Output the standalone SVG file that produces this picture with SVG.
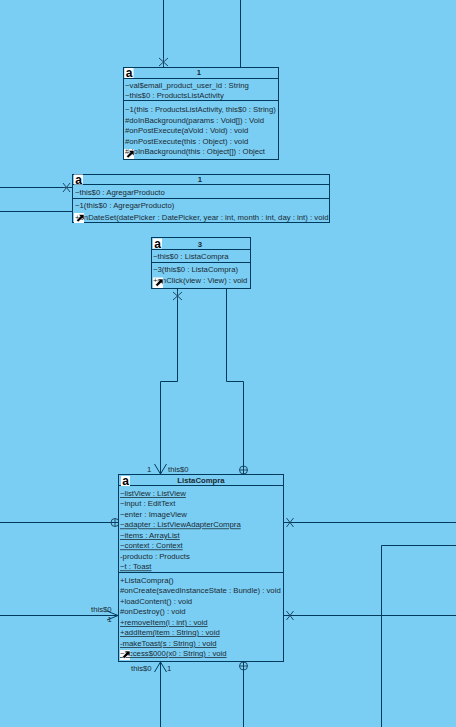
<svg xmlns="http://www.w3.org/2000/svg" width="456" height="727" viewBox="0 0 456 727">
<defs>
<style>
.bx{fill:#7acef4;stroke:#003a5c;stroke-width:1}
.ln{fill:none;stroke:#003a5c;stroke-width:1}
.mk{fill:none;stroke:#1d4a68;stroke-width:1}
text{font-family:"Liberation Sans",Arial,sans-serif;font-size:7.75px;fill:#1a2a33}
.t{font-weight:bold;text-anchor:middle}
.u{text-decoration:underline}
.ic{font-weight:bold;font-size:12px;fill:#000}
</style>
<g id="aicon"><rect x="0" y="0" width="9" height="10" fill="#fff"/><text class="ic" x="1.300" y="9.200">a</text></g>
<g id="ovr"><path d="M4.500 1.500H10V7L8.300 5.300L4.200 9L2.500 7.300L6.200 3.200Z" fill="#000" stroke="#fff" stroke-width=".6"/></g>
</defs>
<rect width="456" height="727" fill="#7acef4"/>
<g id="connectors">
<path class="ln" d="M163.500 0V67M240.500 0V67"/>
<path class="mk" d="M159 58L168 66M168 58L159 66M163.500 58V66"/>
<path class="ln" d="M0 187.500H72M0 211.500H72"/>
<path class="mk" d="M63 183L70 192M70 183L63 192M63 187.500H70"/>
<path class="ln" d="M177.500 289V381.500H160.500V474M226.500 289V381.500H243.500V474"/>
<path class="mk" d="M173 292L182 300M182 292L173 300M177.500 291V300"/>
<path class="ln" d="M154.500 464L160.500 474L166.500 464"/>
<circle class="mk" cx="243.500" cy="470" r="4"/><path class="mk" d="M239.500 470H247.500"/>
<path class="ln" d="M0 522.500H118"/>
<circle class="mk" cx="115" cy="522.500" r="4"/><path class="mk" d="M115 518.500V526.500"/>
<path class="ln" d="M284 522.500H456M284 615.500H456"/>
<path class="mk" d="M286.500 518L293.500 527M293.500 518L286.500 527M286.500 611L293.500 620M293.500 611L286.500 620"/>
<path class="ln" d="M0 615.500H118M107 611L118 615.500L107 620"/>
<path class="ln" d="M456 545.500H381.500V727"/>
<path class="ln" d="M160.500 661V727M154.500 672L160.500 662L166.500 672M243.500 661V727"/>
<circle class="mk" cx="243.500" cy="666" r="4"/><path class="mk" d="M239.500 666H247.500"/>
</g>
<g id="labels">
<text x="147" y="472">1</text><text x="168" y="472">this$0</text>
<text x="91" y="612">this$0</text><text x="107.500" y="622">1</text>
<text x="131" y="671">this$0</text><text x="167" y="671">1</text>
</g>
<g id="node-anon1">
<rect class="bx" x="123.500" y="67.500" width="155" height="92"/>
<path class="ln" d="M123.500 78.500H278.500M123.500 100.500H278.500"/>
<use href="#aicon" x="124.500" y="68"/>
<text class="t" x="199" y="75">1</text>
<text x="125" y="87.700">~val$email_product_user_id : String</text>
<text x="125" y="97.700">~this$0 : ProductsListActivity</text>
<text x="125" y="111.700">~1(this : ProductsListActivity, this$0 : String)</text>
<text x="125" y="122.700">#doInBackground(params : Void[]) : Void</text>
<text x="125" y="133">#onPostExecute(aVoid : Void) : void</text>
<text x="125" y="143.700">#onPostExecute(this : Object) : void</text>
<rect x="124" y="149" width="10" height="10" fill="#fff"/>
<text x="125" y="154.300">#doInBackground(this : Object[]) : Object</text>
<use href="#ovr" x="124" y="149"/>
</g>
<g id="node-anon2">
<rect class="bx" x="72.500" y="174.500" width="257" height="48"/>
<path class="ln" d="M72.500 184.500H329.500M72.500 198.500H329.500"/>
<use href="#aicon" x="74" y="174.500"/>
<text class="t" x="200" y="181.500">1</text>
<text x="75" y="195">~this$0 : AgregarProducto</text>
<text x="75" y="208">~1(this$0 : AgregarProducto)</text>
<rect x="74" y="213" width="10" height="10" fill="#fff"/>
<text x="75" y="219.700">+onDateSet(datePicker : DatePicker, year : int, month : int, day : int) : void</text>
<use href="#ovr" x="74" y="213"/>
</g>
<g id="node-anon3">
<rect class="bx" x="151.500" y="237.500" width="99" height="51"/>
<path class="ln" d="M151.500 249.500H250.500M151.500 262.500H250.500"/>
<use href="#aicon" x="153" y="238.500"/>
<text class="t" x="200" y="246.500">3</text>
<text x="153" y="259">~this$0 : ListaCompra</text>
<text x="153" y="271.700">~3(this$0 : ListaCompra)</text>
<rect x="153" y="277.500" width="10" height="10.500" fill="#fff"/>
<text x="153" y="282.700">+onClick(view : View) : void</text>
<use href="#ovr" x="153" y="277.500"/>
</g>
<g id="node-ListaCompra">
<rect class="bx" x="118.500" y="474.500" width="165" height="187"/>
<path class="ln" d="M118.500 485.500H283.500M118.500 572.500H283.500"/>
<use href="#aicon" x="121" y="476"/>
<text class="t" x="201" y="483">ListaCompra</text>
<text class="u" x="120" y="496">~listView : ListView</text>
<text x="120" y="506">~input : EditText</text>
<text x="120" y="517">~enter : ImageView</text>
<text class="u" x="120" y="527.400">~adapter : ListViewAdapterCompra</text>
<text class="u" x="120" y="538">~items : ArrayList</text>
<text class="u" x="120" y="548.400">~context : Context</text>
<text x="120" y="559">-producto : Products</text>
<text class="u" x="120" y="569.400">~t : Toast</text>
<text x="120" y="583">+ListaCompra()</text>
<text x="120" y="593">#onCreate(savedInstanceState : Bundle) : void</text>
<text x="120" y="604">+loadContent() : void</text>
<text x="120" y="614">#onDestroy() : void</text>
<text class="u" x="120" y="625">+removeItem(i : int) : void</text>
<text class="u" x="120" y="635">+addItem(item : String) : void</text>
<text class="u" x="120" y="646">-makeToast(s : String) : void</text>
<rect x="120" y="650" width="10" height="10" fill="#fff"/>
<text class="u" x="120" y="656">~access$000(x0 : String) : void</text>
<use href="#ovr" x="120" y="649.500"/>
</g>
</svg>
